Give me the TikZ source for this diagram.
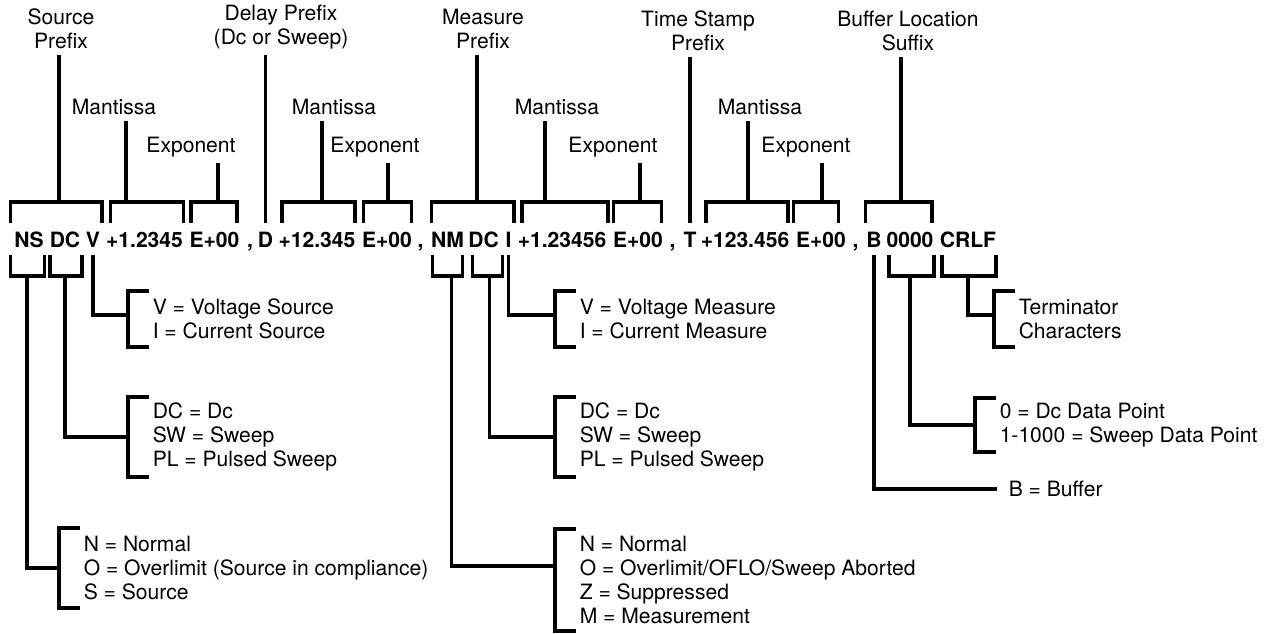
\documentclass[tikz,border=0pt]{standalone}
\usepackage{fontspec}
\setmainfont{TeX Gyre Heros}
\usetikzlibrary{calc}

% bracket over fields #1..#2, bracket under field #1, bracket left of a key
\newcommand\topbrk[4]{\draw ($(#1.west |- legtop)+(#3,0)$) |- ($(#2.east |- bartop)+(#4,0)$) -- ($(#2.east |- legtop)+(#4,0)$);}
\newcommand\botbrk[3]{\draw ($(#1.west |- legbot)+(#2,0)$) |- ($(#1.east |- barbot)+(#3,0)$) -- ($(#1.east |- legbot)+(#3,0)$);}
\newcommand\sidebrk[2]{\draw ($(#1.west)+(-2,-#2)$) -| ($(#1.west)+(-23,0)$) |- ($(#1.west)+(-2,#2)$);}

\begin{document}
\begin{tikzpicture}[x=0.02cm, y=-0.02cm, line width=2pt,
    tok/.style={font=\fontsize{12}{14}\selectfont\bfseries, inner sep=0pt, anchor=base},
    lbl/.style={font=\fontsize{12}{13.6}\selectfont, align=center, anchor=south, inner sep=2.5pt},
    desc/.style={font=\fontsize{12}{13.6}\selectfont, align=left, anchor=west, inner sep=0pt}]
    \useasboundingbox (0,0) rectangle (1275,634);

    \coordinate (bartop) at (0,202);
    \coordinate (legtop) at (0,223);
    \coordinate (legbot) at (0,255);
    \coordinate (barbot) at (0,276);

    % the output string
    \node[tok] (ns) at (29,248) {NS};
    \node[tok] (dc1) at (65,248) {DC};
    \node[tok] (v) at (93,248) {V};
    \node[tok] (m1) at (144.5,248) {+1.2345};
    \node[tok] (e1) at (214.5,248) {E+00};
    \node[tok] (c1) at (250,248) {,};
    \node[tok] (d) at (265.5,248) {D};
    \node[tok] (m2) at (317,248) {+12.345};
    \node[tok] (e2) at (387,248) {E+00};
    \node[tok] (c2) at (420.5,248) {,};
    \node[tok] (nm) at (447.5,248) {NM};
    \node[tok] (dc2) at (483.5,248) {DC};
    \node[tok] (i) at (508.5,248) {I};
    \node[tok] (m3) at (562,248) {+1.23456};
    \node[tok] (e3) at (638,248) {E+00};
    \node[tok] (c3) at (672.5,248) {,};
    \node[tok] (t) at (690,248) {T};
    \node[tok] (m4) at (745,248) {+123.456};
    \node[tok] (e4) at (821,248) {E+00};
    \node[tok] (c4) at (855.5,248) {,};
    \node[tok] (b) at (874,248) {B};
    \node[tok] (loc) at (910,248) {0000};
    \node[tok] (crlf) at (968,248) {CRLF};

    % labels above
    \node[lbl] (srcpre) at (61,55) {Source\\Prefix};
    \node[lbl] (man1) at (114,121) {Mantissa};
    \node[lbl] (exp1) at (191,163) {Exponent};
    \node[lbl] (dlypre) at (281,55) {Delay Prefix\\(Dc or Sweep)};
    \node[lbl] (man2) at (334,121) {Mantissa};
    \node[lbl] (exp2) at (375,163) {Exponent};
    \node[lbl] (meapre) at (483,55) {Measure\\Prefix};
    \node[lbl] (man3) at (557,121) {Mantissa};
    \node[lbl] (exp3) at (613,163) {Exponent};
    \node[lbl] (tspre) at (698,57) {Time Stamp\\Prefix};
    \node[lbl] (man4) at (760,121) {Mantissa};
    \node[lbl] (exp4) at (806,163) {Exponent};
    \node[lbl] (bufsfx) at (908,57) {Buffer Location\\Suffix};

    \topbrk{ns}{v}{-2}{0}
    \topbrk{m1}{m1}{6}{-1}
    \topbrk{e1}{e1}{3}{-4}
    \topbrk{m2}{m2}{5}{-2}
    \topbrk{e2}{e2}{3}{-2}
    \topbrk{nm}{i}{2}{1}
    \topbrk{m3}{m3}{6}{0}
    \topbrk{e3}{e3}{2}{-3}
    \topbrk{m4}{m4}{7}{-3}
    \topbrk{e4}{e4}{-1}{-9}
    \topbrk{b}{loc}{1}{-3}

    \foreach \lab/\x in {srcpre/59, man1/126, exp1/218, man2/322, exp2/388, meapre/477,
                         man3/545, exp3/640, man4/748, exp4/822, bufsfx/901} {
        \coordinate (st) at (\x,202);
        \draw (\lab.south -| st) -- (st);
    }
    \draw (dlypre.south -| d.north) -- (d.north |- legtop);
    \draw (tspre.south -| t.north) -- (t.north |- legtop);

    % keys below
    \botbrk{ns}{-2}{-1}
    \botbrk{dc1}{2}{0}
    \botbrk{nm}{3}{-3}
    \botbrk{dc2}{6}{2}
    \botbrk{loc}{4}{-1}
    \botbrk{crlf}{4}{-2}

    \node[desc] (vsrc) at (151,319) {V = Voltage Source\\I = Current Source};
    \sidebrk{vsrc}{28}
    \draw (v.south |- legbot) |- ($(vsrc.west)+(-23,-4)$);

    \node[desc] (dcsrc) at (151,437) {DC = Dc\\SW = Sweep\\PL = Pulsed Sweep};
    \sidebrk{dcsrc}{40}
    \draw (dc1.south |- barbot) |- ($(dcsrc.west)+(-23,0)$);

    \node[desc] (nsrc) at (82,568) {N = Normal\\O = Overlimit (Source in compliance)\\S = Source};
    \sidebrk{nsrc}{40}
    \draw ($(ns.south |- barbot)+(-2,0)$) |- ($(nsrc.west)+(-23,0)$);

    \node[desc] (vmeas) at (578,319) {V = Voltage Measure\\I = Current Measure};
    \sidebrk{vmeas}{28}
    \draw (i.south |- legbot) |- ($(vmeas.west)+(-23,-4)$);

    \node[desc] (dcmeas) at (578,437) {DC = Dc\\SW = Sweep\\PL = Pulsed Sweep};
    \sidebrk{dcmeas}{40}
    \draw ($(dc2.south |- barbot)+(6,0)$) |- ($(dcmeas.west)+(-23,0)$);

    \node[desc] (nmeas) at (578,580) {N = Normal\\O = Overlimit/OFLO/Sweep Aborted\\Z = Suppressed\\M = Measurement};
    \sidebrk{nmeas}{51}
    \draw ($(nm.south |- barbot)+(4,0)$) |- ($(nmeas.west)+(-23,-14)$);

    \node[desc] (term) at (1017,319) {Terminator\\Characters};
    \sidebrk{term}{28}
    \draw (crlf.south |- barbot) |- ($(term.west)+(-23,-4)$);

    \node[desc] (bufpt) at (998,425) {0 = Dc Data Point\\1-1000 = Sweep Data Point};
    \sidebrk{bufpt}{27}
    \draw (loc.south |- barbot) |- ($(bufpt.west)+(-23,0)$);

    \node[desc] (buf) at (1007,489) {B = Buffer};
    \draw (b.south |- legbot) |- ($(buf.west)+(-10,0)$);
\end{tikzpicture}
\end{document}
